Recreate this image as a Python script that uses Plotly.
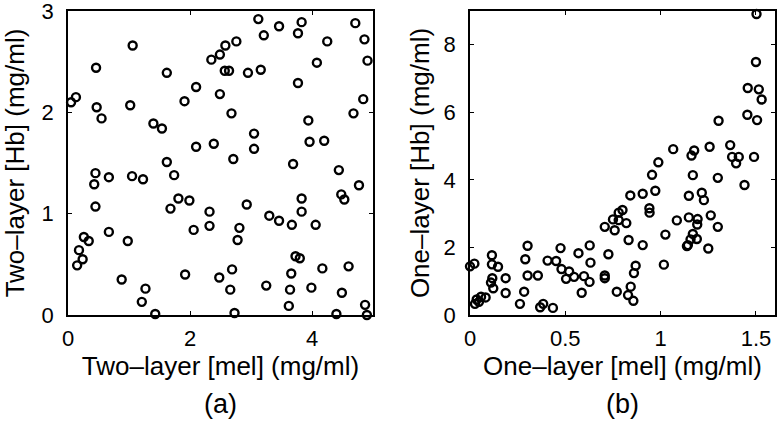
import plotly.graph_objects as go

# Panel (a): two-layer model
two_mel = [3.12, 3.46, 3.83, 4.71, 3.21, 3.77, 4.86, 1.06, 2.76, 2.58, 4.25, 2.49, 2.35, 4.91, 4.08,
           0.46, 1.62, 2.57, 2.64, 2.95, 3.16, 3.77, 2.10, 0.05, 0.13, 2.49, 4.84, 1.91, 0.47, 1.02,
           4.68, 2.68, 0.55, 1.40, 1.54, 3.94, 3.05, 3.96, 4.20, 2.10, 2.39, 3.05, 1.62, 2.71, 3.69,
           4.44, 4.77, 0.45, 0.43, 0.67, 1.05, 1.23, 1.74, 0.45, 4.48, 4.53, 1.81, 1.99, 1.68, 2.32,
           2.93, 3.83, 3.83, 3.30, 3.46, 3.67, 4.06, 2.32, 2.81, 2.06, 2.78, 0.26, 0.34, 0.67, 0.98,
           0.18, 0.24, 0.15, 3.73, 3.80, 2.69, 3.66, 4.17, 4.60, 1.92, 2.48, 0.88, 1.27, 2.66, 3.25,
           3.64, 3.99, 4.49, 1.21, 3.62, 4.87, 1.43, 2.73, 4.40, 4.90]
two_hb = [2.92, 2.85, 2.89, 2.88, 2.76, 2.78, 2.72, 2.66, 2.70, 2.66, 2.70, 2.57, 2.52, 2.51, 2.49,
          2.44, 2.39, 2.41, 2.41, 2.39, 2.42, 2.29, 2.25, 2.10, 2.15, 2.18, 2.13, 2.11, 2.05, 2.07,
          1.99, 1.99, 1.94, 1.89, 1.84, 1.92, 1.79, 1.71, 1.72, 1.66, 1.69, 1.64, 1.51, 1.54, 1.49,
          1.43, 1.28, 1.40, 1.29, 1.36, 1.37, 1.34, 1.38, 1.07, 1.19, 1.14, 1.15, 1.13, 1.05, 1.02,
          1.09, 1.15, 1.02, 0.98, 0.93, 0.89, 0.89, 0.88, 0.86, 0.84, 0.74, 0.77, 0.73, 0.82, 0.73,
          0.64, 0.55, 0.49, 0.58, 0.56, 0.45, 0.41, 0.46, 0.48, 0.40, 0.37, 0.35, 0.26, 0.25, 0.29,
          0.25, 0.27, 0.22, 0.13, 0.09, 0.10, 0.01, 0.02, 0.01, 0.00]

# Panel (b): one-layer model
one_mel = [1.503, 1.500, 1.457, 1.515, 1.530, 1.455, 1.506, 1.304, 1.066, 1.176, 1.162, 1.257, 1.365,
           1.375, 1.410, 1.396, 1.490, 0.988,
           1.440, 1.300, 1.169, 0.955, 0.972, 0.906, 0.841, 1.148, 1.216, 1.227, 0.941, 0.942, 0.800,
           0.780, 0.750, 0.780, 0.820, 0.707, 0.759, 1.085, 1.148, 1.194, 1.192, 1.263, 1.300, 1.025,
           0.832, 1.169, 1.157, 1.190, 1.143, 1.138, 1.250, 0.906, 0.726, 0.628, 0.632, 0.569, 0.475,
           0.452, 0.407, 0.480, 0.520, 0.504, 0.546, 0.598, 0.627, 0.586, 0.707, 0.707, 0.869, 0.860,
           0.843, 0.829, 0.857, 0.770, 1.017, 0.356, 0.302, 0.290, 0.302, 0.284, 0.262, 0.368, 0.384,
           0.435, 0.115, 0.115, 0.147, 0.117, 0.110, 0.122, 0.187, 0.187, 0.000, 0.023, 0.026, 0.035,
           0.058, 0.082, 0.047]
one_hb = [8.91, 7.49, 6.72, 6.68, 6.38, 5.93, 5.77, 5.75, 4.91, 4.87, 4.72, 4.98, 5.03,
          4.68, 4.68, 4.49, 4.68, 4.52,
          3.85, 4.06, 4.14, 4.15, 3.68, 3.59, 3.54, 3.53, 3.62, 3.40, 3.16, 3.03, 3.11,
          3.03, 2.83, 2.81, 2.72, 2.61, 2.51, 2.80, 2.89, 2.84, 2.68, 2.95, 2.61, 2.38,
          2.22, 2.40, 2.24, 2.25, 2.07, 2.04, 1.97, 2.07, 1.80, 2.06, 1.55, 1.83, 1.98,
          1.60, 1.61, 1.36, 1.29, 1.07, 1.13, 1.15, 0.98, 0.66, 1.17, 1.09, 1.46, 1.24,
          0.84, 0.59, 0.42, 0.69, 1.49, 1.17, 2.05, 1.65, 1.17, 0.69, 0.33, 0.23, 0.33,
          0.21, 1.77, 1.50, 1.43, 1.09, 0.96, 0.79, 1.09, 0.65, 1.44, 1.52, 0.33, 0.46,
          0.54, 0.52, 0.39]

x_ticks_a = [0, 2, 4]
y_ticks_a = [0, 1, 2, 3]
x_ticks_b = [0, 0.5, 1, 1.5]
y_ticks_b = [0, 2, 4, 6, 8]

FONT = "Liberation Sans, Arial, Helvetica, sans-serif"
TICK_SIZE = 22
TITLE_SIZE = 26

marker = dict(symbol="circle-open", size=8, color="black", line=dict(width=2.4, color="black"))

fig = go.Figure()
fig.add_trace(go.Scatter(x=two_mel, y=two_hb, mode="markers", marker=marker,
                         xaxis="x", yaxis="y", cliponaxis=False, showlegend=False))
fig.add_trace(go.Scatter(x=one_mel, y=one_hb, mode="markers", marker=marker,
                         xaxis="x2", yaxis="y2", cliponaxis=False, showlegend=False))

axis_common = dict(showline=True, linecolor="black", linewidth=1.8, mirror="ticks",
                   ticks="inside", ticklen=4, tickwidth=1.2, tickcolor="black",
                   showgrid=False, zeroline=False, automargin=False,
                   ticklabeloverflow="allow",
                   tickfont=dict(family=FONT, size=TICK_SIZE, color="black"))

top = 425 / 436
bottom = 121 / 436

fig.update_layout(
    width=780, height=436,
    margin=dict(l=0, r=0, t=0, b=0),
    paper_bgcolor="white", plot_bgcolor="white",
    font=dict(family=FONT, color="black"),
    xaxis=dict(axis_common, domain=[68/780, 373/780], range=[0, 5], tickvals=x_ticks_a,
               anchor="y", ticklabelstandoff=3,
               title=dict(text="Two\u2013layer [mel] (mg/ml)", font=dict(size=TITLE_SIZE), standoff=5)),
    yaxis=dict(axis_common, domain=[bottom, top], range=[0, 3], tickvals=y_ticks_a,
               anchor="x", ticklabelstandoff=8,
               title=dict(text="Two\u2013layer [Hb] (mg/ml)", font=dict(size=TITLE_SIZE), standoff=9)),
    xaxis2=dict(axis_common, domain=[470/780, 775/780], range=[0, 1.6], tickvals=x_ticks_b,
                anchor="y2", ticklabelstandoff=3,
                title=dict(text="One\u2013layer [mel] (mg/ml)", font=dict(size=TITLE_SIZE), standoff=5)),
    yaxis2=dict(axis_common, domain=[bottom, top], range=[0, 9], tickvals=y_ticks_b,
                anchor="x2", ticklabelstandoff=8,
                title=dict(text="One\u2013layer [Hb] (mg/ml)", font=dict(size=TITLE_SIZE), standoff=6)),
    annotations=[
        dict(text="(a)", x=(68 + 373) / 2 / 780, y=(436 - 404) / 436, xref="paper", yref="paper",
             showarrow=False, font=dict(family=FONT, size=27, color="black"), xanchor="center", yanchor="middle"),
        dict(text="(b)", x=(470 + 775) / 2 / 780, y=(436 - 404) / 436, xref="paper", yref="paper",
             showarrow=False, font=dict(family=FONT, size=27, color="black"), xanchor="center", yanchor="middle"),
    ],
)

fig.write_html("out.html", config={"displayModeBar": False},
               post_script="document.body.style.margin='0';")
